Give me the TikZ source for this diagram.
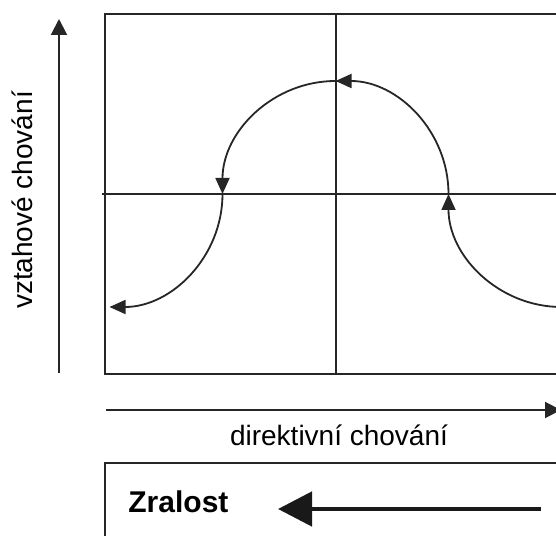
\documentclass[tikz,border=0pt]{standalone}
\usepackage{fontspec}
\setmainfont{Liberation Sans}
\usetikzlibrary{arrows.meta}
\begin{document}
\begin{tikzpicture}[x=0.5pt,y=0.5pt,
frame/.style = {line width=1pt,black!85},
axis/.style = {line width=1pt,black!85,
        -{Triangle[length=8pt,width=8pt]}},
flow/.style = {line width=0.9pt,black!85,
        -{Triangle[length=8pt,width=7pt]}},
every node/.append style = {font=\fontsize{14}{16}\selectfont}]

        \useasboundingbox (0,0) rectangle (556,535);
        \clip (0,0) rectangle (556,535);

        \coordinate (Box_BL) at ( 104.5, 161 );
        \coordinate (Box_TR) at ( 620, 521 );
        \coordinate (Mid_B) at ( 335.5, 161 );
        \coordinate (Mid_T) at ( 335.5, 521 );
        \coordinate (Mid_L) at ( 102, 341 );
        \coordinate (Mid_R) at ( 620, 341 );
        \draw[frame] (Box_BL) rectangle (Box_TR);
        \draw[frame] (Mid_B) -- (Mid_T);
        \draw[frame] (Mid_L) -- (Mid_R);

        \coordinate (Arc_RLow) at ( 561.5, 228 );
        \coordinate (Arc_RMid) at ( 448.5, 341 );
        \coordinate (Arc_Top) at ( 335.5, 454 );
        \coordinate (Arc_LMid) at ( 222.5, 341 );
        \coordinate (Arc_LLow) at ( 109.5, 228 );
        \draw[flow] (Arc_RLow) arc[start angle=270, end angle=180, radius=113];
        \draw[flow] (Arc_RMid) arc[start angle=0, end angle=90, radius=113];
        \draw[flow] (Arc_Top) arc[start angle=90, end angle=180, radius=113];
        \draw[flow] (Arc_LMid) arc[start angle=0, end angle=-90, radius=113];

        \coordinate (Rel_Start) at ( 59, 162 );
        \coordinate (Rel_End) at ( 59, 516 );
        \draw[axis] (Rel_Start) -- (Rel_End);
        \node (rel_label) [rotate=90, anchor=base] at ( 32, 335 ) {vztahové chování};

        \coordinate (Dir_Start) at ( 106, 125 );
        \coordinate (Dir_End) at ( 561, 125 );
        \draw[axis] (Dir_Start) -- (Dir_End);
        \node (dir_label) [anchor=base] at ( 339, 90 ) {direktivní chování};

        \coordinate (Mat_BL) at ( 105, -20 );
        \coordinate (Mat_TR) at ( 620, 72 );
        \draw[frame] (Mat_BL) rectangle (Mat_TR);
        \node (mat_label) [anchor=base west, inner sep=0pt,
                font=\fontsize{15}{18}\selectfont\bfseries] at ( 128, 23 ) {Zralost};
        \coordinate (Mat_Start) at ( 541, 26 );
        \coordinate (Mat_End) at ( 278, 26 );
        \draw[line width=2.4pt,black!90,
                -{Triangle[length=17pt,width=17pt]}] (Mat_Start) -- (Mat_End);

\end{tikzpicture}
\end{document}
